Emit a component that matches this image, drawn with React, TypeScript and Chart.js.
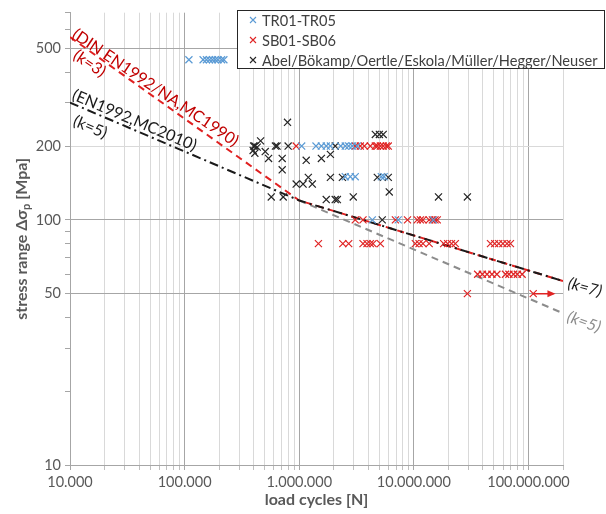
import React, { useEffect, useRef } from "react";
import { Chart, registerables } from "chart.js";

Chart.register(...registerables);

const FONT = "Lato, 'Open Sans', sans-serif";

const seriesNames = ["TR01-TR05", "SB01-SB06", "Abel/Bökamp/Oertle/Eskola/Müller/Hegger/Neuser"];
const seriesColors = ["#5b9bd5", "#e02424", "#262626"];

// TR01-TR05 (load cycles, stress range)
const trCycles = [
  1.09e5, 1.45e5, 1.55e5, 1.65e5, 1.75e5, 1.85e5, 1.95e5, 2.1e5, 2.2e5,
  1.05e6, 1.4e6, 1.56e6, 1.72e6, 1.87e6, 2.3e6, 2.52e6, 2.7e6, 2.9e6, 3.2e6,
  2.52e6, 2.79e6, 3.08e6, 5.2e6, 5.5e6,
  4.34e6, 7.3e6, 1.48e7,
];
const trStress = [
  450, 450, 450, 450, 450, 450, 450, 450, 450,
  200, 200, 200, 200, 200, 200, 200, 200, 200, 200,
  150, 150, 150, 150, 150,
  100, 100, 100,
];

// SB01-SB06
const sbCycles = [
  9.4e5, 3.08e6, 3.41e6, 3.7e6, 4.17e6, 4.61e6, 4.8e6, 5.1e6, 5.4e6, 5.75e6, 5.98e6,
  3.08e6, 3.6e6, 6.9e6, 8.8e6, 1.07e7, 1.14e7, 1.2e7, 1.36e7, 1.45e7, 1.53e7, 1.6e7,
  1.47e6, 2.4e6, 2.7e6, 3.6e6, 3.9e6, 4.17e6, 4.4e6, 5.1e6, 1.03e7, 1.11e7, 1.2e7, 1.36e7,
  1.82e7, 1.97e7, 2.13e7, 2.3e7, 4.66e7, 5.07e7, 5.5e7, 5.98e7, 6.5e7, 6.96e7,
  3.6e7, 3.96e7, 4.35e7, 4.8e7, 5.3e7, 6.3e7, 6.75e7, 7.4e7, 8.0e7, 8.8e7,
  2.93e7, 1.1e8,
];
const sbStress = [
  200, 200, 200, 200, 200, 200, 200, 200, 200, 200, 200,
  100, 100, 100, 100, 100, 100, 100, 100, 100, 100, 100,
  80, 80, 80, 80, 80, 80, 80, 80, 80, 80, 80, 80,
  80, 80, 80, 80, 80, 80, 80, 80, 80, 80,
  60, 60, 60, 60, 60, 60, 60, 60, 60, 60,
  50, 50,
];

// Abel/Bökamp/Oertle/Eskola/Müller/Hegger/Neuser
const abCycles = [
  7.9e5, 4.6e5, 4.1e5, 4.0e5, 4.3e5, 3.96e5, 4.1e5, 5.05e5, 5.4e5, 6.2e5, 6.4e5, 8.0e5,
  7.1e5, 7.1e5, 1.15e6, 1.56e6, 1.87e6, 9.4e5, 1.08e6, 1.3e6, 1.2e6, 1.87e6, 2.38e6,
  5.7e5, 7.25e5, 1.72e6, 2.06e6, 2.15e6, 2.96e6, 6.1e6, 4.61e6, 5.0e6, 5.4e6, 2.06e6,
  4.8e6, 5.98e6, 5.3e6, 1.64e7, 2.93e7,
];
const abStress = [
  250, 210, 200, 200, 198, 192, 187, 190, 178, 200, 200, 200,
  178, 160, 175, 178, 185, 140, 140, 140, 149, 149, 149,
  124, 124, 121, 121, 121, 124, 130, 223, 223, 223, 200,
  149, 149, 100, 124, 124,
];

// Design curves
const dinCycles = [1e4, 1e6, 2e8];
const dinStress = [557, 120, 56.3];
const ecCycles = [1e4, 1e6, 2e8];
const ecStress = [301, 120, 56.3];
const k5Cycles = [1e6, 2e8];
const k5Stress = [120, 41.6];
const arrowCycles = [1.1e8, 1.65e8];
const arrowStress = [50, 50];

// Axes
const xMin = 1e4;
const xMax = 2e8;
const yMin = 10;
const yMax = 700;
const xDecades = [1e4, 1e5, 1e6, 1e7, 1e8];
const xMultipliers = [1, 2, 3, 4, 5, 6, 7, 8, 9];
const yTickValues = [10, 20, 30, 40, 50, 60, 70, 80, 90, 100, 200, 300, 400, 500, 600, 700];
const yLabelTicks = [10, 50, 100, 200, 500];
const yDarkGrid = [50, 100, 500];
const yLightGrid = [200];

const xTickValues: number[] = [];
xDecades.forEach((d) => xMultipliers.forEach((m) => { if (d * m <= xMax) xTickValues.push(d * m); }));

const isDecade = (v: number) => Math.abs(Math.log10(v) - Math.round(Math.log10(v))) < 1e-9;
const fmtThousands = (v: number) => String(Math.round(v)).replace(/\B(?=(\d{3})+(?!\d))/g, ".");
const toPairs = (xs: number[], ys: number[]) => xs.map((x, i) => ({ x, y: ys[i] }));

const markerDs = (label: string, xs: number[], ys: number[], color: string) => ({
  label,
  data: toPairs(xs, ys),
  showLine: false,
  pointStyle: "crossRot",
  pointRadius: 5,
  pointHoverRadius: 5,
  pointBorderWidth: 1.2,
  pointBorderColor: color,
  pointBackgroundColor: color,
  borderColor: color,
  backgroundColor: color,
});

const lineDs = (label: string, xs: number[], ys: number[], color: string, dash: number[], width: number) => ({
  label,
  data: toPairs(xs, ys),
  showLine: true,
  pointRadius: 0,
  pointHoverRadius: 0,
  borderColor: color,
  backgroundColor: color,
  borderWidth: width,
  borderDash: dash,
  fill: false,
});

function rotatedText(ctx: CanvasRenderingContext2D, text: string, x: number, y: number, deg: number, font: string, color: string) {
  ctx.save();
  ctx.translate(x, y);
  ctx.rotate((deg * Math.PI) / 180);
  ctx.font = font;
  ctx.fillStyle = color;
  ctx.textAlign = "left";
  ctx.textBaseline = "alphabetic";
  ctx.fillText(text, 0, 0);
  ctx.restore();
}

const overlayPlugin = {
  id: "overlay",
  afterDraw(chart: any) {
    const ctx: CanvasRenderingContext2D = chart.ctx;
    const xs = chart.scales.x;
    const ys = chart.scales.y;

    // arrow head
    const ax = xs.getPixelForValue(arrowCycles[1]);
    const ay = ys.getPixelForValue(arrowStress[1]);
    ctx.save();
    ctx.fillStyle = "#e02424";
    ctx.beginPath();
    ctx.moveTo(ax + 2, ay);
    ctx.lineTo(ax - 6, ay - 3.5);
    ctx.lineTo(ax - 6, ay + 3.5);
    ctx.closePath();
    ctx.fill();
    ctx.restore();

    // curve annotations
    rotatedText(ctx, "(DIN EN1992/NA,MC1990)", 71, 37, 34, `16px ${FONT}`, "#c00000");
    rotatedText(ctx, "(k=3)", 72, 58, 34, `16px ${FONT}`, "#c00000");
    rotatedText(ctx, "(EN1992,MC2010)", 71, 99, 23, `16px ${FONT}`, "#1a1a1a");
    rotatedText(ctx, "(k=5)", 72, 125, 23, `16px ${FONT}`, "#1a1a1a");
    rotatedText(ctx, "(k=7)", 567, 288, 15, `italic 16px ${FONT}`, "#1a1a1a");
    rotatedText(ctx, "(k=5)", 566, 321, 20, `italic 16px ${FONT}`, "#8c8c8c");

    // axis titles
    ctx.save();
    ctx.fillStyle = "#595959";
    ctx.font = `bold 16px ${FONT}`;
    ctx.textAlign = "center";
    ctx.textBaseline = "middle";
    ctx.fillText("load cycles [N]", (chart.chartArea.left + chart.chartArea.right) / 2, 500);
    ctx.restore();

    ctx.save();
    ctx.translate(22, (chart.chartArea.top + chart.chartArea.bottom) / 2);
    ctx.rotate(-Math.PI / 2);
    ctx.fillStyle = "#595959";
    ctx.textBaseline = "middle";
    const big = `bold 16px ${FONT}`;
    const small = `bold 11px ${FONT}`;
    const p1 = "stress range \u0394\u03c3";
    const p2 = "p";
    const p3 = " [Mpa]";
    ctx.font = big;
    const w1 = ctx.measureText(p1).width;
    const w3 = ctx.measureText(p3).width;
    ctx.font = small;
    const w2 = ctx.measureText(p2).width;
    let cx = -(w1 + w2 + w3) / 2;
    ctx.textAlign = "left";
    ctx.font = big;
    ctx.fillText(p1, cx, 0);
    cx += w1;
    ctx.font = small;
    ctx.fillText(p2, cx, 4);
    cx += w2;
    ctx.font = big;
    ctx.fillText(p3, cx, 0);
    ctx.restore();

    // legend
    ctx.save();
    const lx = 237, ly = 10, lw = 368, lh = 59;
    ctx.fillStyle = "#ffffff";
    ctx.fillRect(lx, ly, lw, lh);
    ctx.strokeStyle = "#262626";
    ctx.lineWidth = 1;
    ctx.strokeRect(lx + 0.5, ly + 0.5, lw - 1, lh - 1);
    ctx.font = `14.6px ${FONT}`;
    ctx.textAlign = "left";
    ctx.textBaseline = "middle";
    seriesNames.forEach((name, i) => {
      const yy = ly + 10 + i * 20;
      const mx = lx + 16;
      ctx.strokeStyle = seriesColors[i];
      ctx.lineWidth = 1.1;
      ctx.beginPath();
      ctx.moveTo(mx - 3, yy - 3);
      ctx.lineTo(mx + 3, yy + 3);
      ctx.moveTo(mx - 3, yy + 3);
      ctx.lineTo(mx + 3, yy - 3);
      ctx.stroke();
      ctx.fillStyle = "#404040";
      ctx.fillText(name, lx + 25, yy + 1);
    });
    ctx.restore();
  },
};

export default function App() {
  const ref = useRef<HTMLCanvasElement>(null);
  useEffect(() => {
    const canvas = ref.current;
    if (!canvas) return;
    const chart = new Chart(canvas, {
      type: "scatter",
      data: {
        datasets: [
          markerDs(seriesNames[0], trCycles, trStress, seriesColors[0]),
          markerDs(seriesNames[1], sbCycles, sbStress, seriesColors[1]),
          markerDs(seriesNames[2], abCycles, abStress, seriesColors[2]),
          lineDs("arrow", arrowCycles, arrowStress, "#e02424", [], 1.5),
          lineDs("EN1992,MC2010", ecCycles, ecStress, "#1a1a1a", [9, 4, 2, 4], 2),
          lineDs("DIN EN1992/NA,MC1990", dinCycles, dinStress, "#e02020", [7, 5], 2),
          lineDs("k=5", k5Cycles, k5Stress, "#8c8c8c", [7, 5], 2),
        ] as any,
      },
      options: {
        responsive: false,
        animation: false,
        events: [],
        layout: { padding: { left: 0, top: 5, right: 43, bottom: 0 } },
        plugins: { legend: { display: false }, tooltip: { enabled: false }, title: { display: false } },
        scales: {
          x: {
            type: "logarithmic",
            min: xMin,
            max: xMax,
            afterFit: (s: any) => { s.height = 49; },
            afterBuildTicks: (s: any) => { s.ticks = xTickValues.map((v) => ({ value: v })); },
            ticks: {
              autoSkip: false,
              maxRotation: 0,
              minRotation: 0,
              padding: 4,
              color: "#595959",
              font: { family: FONT, size: 14.5 },
              callback: (v: any) => (isDecade(Number(v)) ? fmtThousands(Number(v)) : ""),
            },
            grid: {
              color: (c: any) => (c.tick && isDecade(c.tick.value) ? "#a6a6a6" : "#d9d9d9"),
              tickColor: (c: any) => (c.tick && isDecade(c.tick.value) ? "#a6a6a6" : "#bfbfbf"),
              tickLength: 5,
              lineWidth: 1,
            },
            border: { display: true, color: "#a6a6a6" },
          },
          y: {
            type: "logarithmic",
            min: yMin,
            max: yMax,
            afterFit: (s: any) => { s.width = 70; },
            afterBuildTicks: (s: any) => { s.ticks = yTickValues.map((v) => ({ value: v })); },
            ticks: {
              autoSkip: false,
              padding: 4,
              color: "#595959",
              font: { family: FONT, size: 14.5 },
              callback: (v: any) => (yLabelTicks.includes(Number(v)) ? String(v) : ""),
            },
            grid: {
              color: (c: any) => {
                if (!c.tick) return "transparent";
                if (yDarkGrid.includes(c.tick.value)) return "#a6a6a6";
                if (yLightGrid.includes(c.tick.value)) return "#d9d9d9";
                return "transparent";
              },
              tickColor: "#a6a6a6",
              tickLength: 5,
              lineWidth: 1,
            },
            border: { display: true, color: "#a6a6a6" },
          },
        },
      } as any,
      plugins: [overlayPlugin],
    });
    return () => chart.destroy();
  }, []);
  return (
    <div style={{ position: "fixed", left: 0, top: 0, width: 606, height: 514, background: "#ffffff" }}>
      <canvas ref={ref} width={606} height={514} style={{ display: "block" }} />
    </div>
  );
}
